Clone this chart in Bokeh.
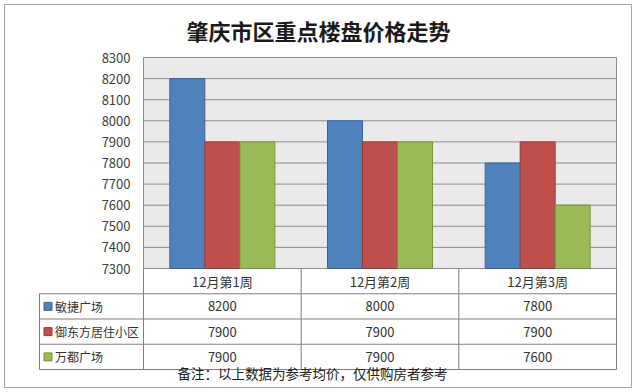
import numpy as np
from bokeh.plotting import figure
from bokeh.models import Range1d, Label
from bokeh.core.properties import value
from bokeh.embed import file_html
from bokeh.resources import INLINE

# ---------------- data ----------------
title_text = "肇庆市区重点楼盘价格走势"
note_text = "备注：以上数据为参考均价，仅供购房者参考"
categories = ["12月第1周", "12月第2周", "12月第3周"]
series_names = ["敏捷广场", "御东方居住小区", "万都广场"]
minjie = [8200, 8000, 7800]
yudongfang = [7900, 7900, 7900]
wandu = [7900, 7900, 7600]
y_ticks = [7300, 7400, 7500, 7600, 7700, 7800, 7900, 8000, 8100, 8200, 8300]

series_values = [minjie, yudongfang, wandu]
colors = ["#4F81BD", "#C0504D", "#9BBB59"]
edge_colors = ["#3A6494", "#953B39", "#76923C"]

# ---------------- layout constants (pixels) ----------------
W, H = 640, 392
FL, FR, FT, FB = 4, 631, 4, 387        # chart border box (= frame)
PL, PR, PT, PB = 143, 616, 57, 268     # plot area
RH = 25.25                             # table row height
LBL_L = 39                             # table label column left edge

n = len(categories)
ymin, ymax = y_ticks[0], y_ticks[-1]
kx = (PR - PL) / n
ky = (PB - PT) / (ymax - ymin)

x_range = Range1d(-(PL - FL) / kx, n + (FR - PR) / kx)
y_range = Range1d(ymin - (FB - PB) / ky, ymax + (PT - FT) / ky)

FONT = value("Noto Sans CJK SC")

p = figure(width=W, height=H, x_range=x_range, y_range=y_range,
           x_axis_type=None, y_axis_type=None,
           min_border_left=FL, min_border_right=W - FR,
           min_border_top=FT, min_border_bottom=H - FB,
           toolbar_location=None, output_backend="svg")
p.extra_y_ranges = {"table": Range1d((FB - PB) / RH, -(PB - FT) / RH)}
p.outline_line_color = "#A6A6A6"
p.outline_line_width = 1
p.background_fill_color = "white"
p.border_fill_color = "white"
p.grid.visible = False

grid_col = "#8C8C8C"
tbl_col = "#7F7F7F"

# plot area background
p.quad(left=[0], right=[n], bottom=[ymin], top=[ymax],
       fill_color="#EAEAEA", line_color=None)
# horizontal grid lines
p.segment(x0=[0] * len(y_ticks), x1=[n] * len(y_ticks), y0=y_ticks, y1=y_ticks,
          line_color=grid_col, line_width=1)
# plot area side borders
p.segment(x0=[0, n], x1=[0, n], y0=[ymin, ymin], y1=[ymax, ymax],
          line_color=grid_col, line_width=1)

# bars
bw = 0.222
xc = np.arange(n) + 0.5
for j, vals in enumerate(series_values):
    p.vbar(x=xc + (j - 1) * bw, width=bw, bottom=ymin, top=vals,
           fill_color=colors[j], line_color=edge_colors[j], line_width=1)

# y tick labels
p.text(x=[0] * len(y_ticks), y=y_ticks, text=[str(t) for t in y_ticks],
       x_offset=-13, text_align="right", text_baseline="middle",
       text_font=FONT, text_font_size="13px", text_color="#404040")

# ---------------- data table ----------------
lbl_left = -(PL - LBL_L) / kx
rows = np.arange(1, len(series_names) + 1)
nrow = len(series_names) + 1
# horizontal table lines
p.segment(x0=[lbl_left] * len(rows), x1=[n] * len(rows),
          y0=list(rows + 0), y1=list(rows + 0), y_range_name="table",
          line_color=tbl_col, line_width=1)
p.segment(x0=[lbl_left], x1=[n], y0=[nrow], y1=[nrow], y_range_name="table",
          line_color=tbl_col, line_width=1)
# vertical table lines
vx = list(range(0, n + 1))
p.segment(x0=vx, x1=vx, y0=[0] * len(vx), y1=[nrow] * len(vx), y_range_name="table",
          line_color=tbl_col, line_width=1)
p.segment(x0=[lbl_left], x1=[lbl_left], y0=[1], y1=[nrow], y_range_name="table",
          line_color=tbl_col, line_width=1)

# header labels
p.text(x=xc, y=[0.5] * n, text=categories, y_range_name="table",
       text_align="center", text_baseline="middle",
       text_font=FONT, text_font_size="13px", text_color="#333333")
# values
for j, vals in enumerate(series_values):
    p.text(x=xc, y=[rows[j] + 0.5] * n, text=[str(v) for v in vals], y_range_name="table",
           text_align="center", text_baseline="middle",
           text_font=FONT, text_font_size="13px", text_color="#333333")
# legend keys + names
key_x = lbl_left + 8.5 / kx
p.scatter(x=[key_x] * len(rows), y=rows + 0.5, y_range_name="table", marker="square",
          size=8, fill_color=colors, line_color=edge_colors, line_width=1)
p.text(x=[key_x] * len(rows), y=rows + 0.5, text=series_names, y_range_name="table",
       x_offset=7, text_align="left", text_baseline="middle",
       text_font=FONT, text_font_size="12px", text_color="#333333")

# title and note
p.add_layout(Label(x=318 - FL, y=FB - 29, x_units="screen", y_units="screen",
                   text=title_text, text_align="center", text_baseline="middle",
                   text_font="Noto Sans CJK SC", text_font_size="22px",
                   text_font_style="bold", text_color="#1A1A1A"))
p.add_layout(Label(x=312 - FL, y=FB - 372, x_units="screen", y_units="screen",
                   text=note_text, text_align="center", text_baseline="middle",
                   text_font="Noto Sans CJK SC", text_font_size="13.5px",
                   text_color="#222222"))

open("out.html", "w").write(file_html(p, INLINE))
